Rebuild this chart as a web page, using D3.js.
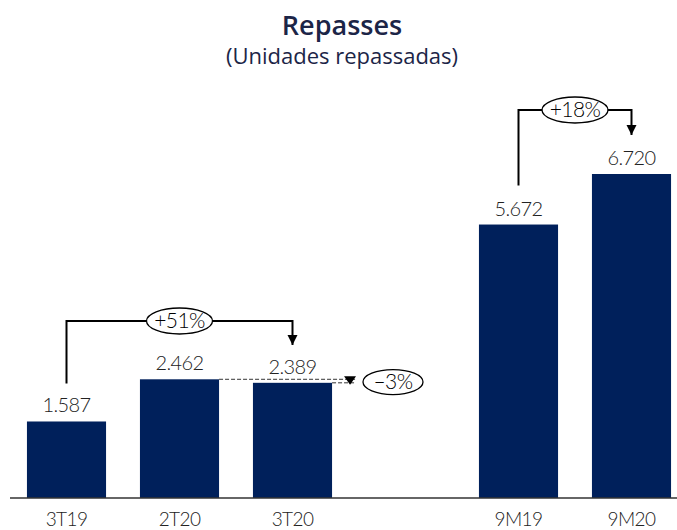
<!DOCTYPE html>
<html>
<head>
<meta charset="utf-8">
<script src="https://cdn.jsdelivr.net/npm/d3@7"></script>
<style>
  body { margin: 0; background: #fff; }
  text { font-family: "Open Sans", "Noto Sans", sans-serif; }
  .num { font-family: Lato, "Open Sans", sans-serif; font-weight: 300; letter-spacing: -0.6px; }
</style>
</head>
<body>
<svg id="chart"></svg>
<script>
// Chart data
var categories = ["3T19", "2T20", "3T20", "", "9M19", "9M20"];
var values = [1587, 2462, 2389, null, 5672, 6720];
var valueLabels = ["1.587", "2.462", "2.389", "", "5.672", "6.720"];
var changeLabels = ["+51%", "-3%", "+18%"];

var W = 677, H = 530;
var baseY = 498;

var svg = d3.select("#chart")
  .attr("width", W)
  .attr("height", H);

// Scales
var xScale = d3.scaleBand()
  .domain(categories)
  .range([10, 688])
  .paddingInner(0.3)
  .paddingOuter(0.15);

var yScale = d3.scaleLinear()
  .domain([0, 6720])
  .range([baseY, 174]);

var data = categories.map(function(c, i) {
  return { cat: c, value: values[i], label: valueLabels[i] };
}).filter(function(d) { return d.value !== null; });

function cx(cat) { return xScale(cat) + xScale.bandwidth() / 2; }

// Title
svg.append("text")
  .attr("x", 342).attr("y", 35)
  .attr("text-anchor", "middle")
  .style("font-size", "27px")
  .style("font-weight", "600")
  .style("fill", "#1c2547")
  .text("Repasses");

svg.append("text")
  .attr("x", 342).attr("y", 64)
  .attr("text-anchor", "middle")
  .style("font-size", "22px")
  .style("fill", "#1c2547")
  .text("(Unidades repassadas)");

// Bars
svg.selectAll(".bar")
  .data(data)
  .enter()
  .append("rect")
  .attr("class", "bar")
  .attr("x", function(d) { return xScale(d.cat); })
  .attr("y", function(d) { return yScale(d.value); })
  .attr("width", xScale.bandwidth())
  .attr("height", function(d) { return baseY - yScale(d.value); })
  .style("fill", "#00205b");

// Value labels
svg.selectAll(".val")
  .data(data)
  .enter()
  .append("text")
  .attr("class", "val num")
  .attr("x", function(d) { return cx(d.cat); })
  .attr("y", function(d) { return yScale(d.value) - 9; })
  .attr("text-anchor", "middle")
  .style("font-size", "20px")
  .style("fill", "#222")
  .text(function(d) { return d.label; });

// X axis
var xAxis = svg.append("g")
  .attr("transform", "translate(0," + baseY + ")")
  .call(d3.axisBottom(xScale).tickSize(0).tickPadding(15));
xAxis.select(".domain").attr("d", "M10,0H677").style("stroke", "#333").style("stroke-width", 1.5);
xAxis.selectAll("text")
  .attr("class", "num")
  .style("font-size", "19px")
  .style("fill", "#222");

// Arrow marker
svg.append("defs").append("marker")
  .attr("id", "arr")
  .attr("viewBox", "0 0 10 10")
  .attr("refX", 10).attr("refY", 5)
  .attr("markerWidth", 5).attr("markerHeight", 5.5)
  .attr("markerUnits", "strokeWidth")
  .attr("orient", "auto")
  .append("path")
  .attr("d", "M0,0L10,5L0,10Z")
  .style("fill", "#000");

// Bracket with growth bubble
function bracket(fromCat, toCat, topY, tipY, label, startY) {
  var x1 = cx(fromCat), x2 = cx(toCat);
  svg.append("path")
    .attr("d", "M" + x1 + "," + startY + "V" + topY + "H" + x2 + "V" + tipY)
    .style("fill", "none")
    .style("stroke", "#000")
    .style("stroke-width", 2)
    .attr("marker-end", "url(#arr)");
  var mx = (x1 + x2) / 2;
  svg.append("ellipse")
    .attr("cx", mx).attr("cy", topY)
    .attr("rx", 33).attr("ry", 13)
    .style("fill", "#fff").style("stroke", "#000").style("stroke-width", 1.3);
  svg.append("text")
    .attr("class", "num")
    .attr("x", mx).attr("y", topY + 7)
    .attr("text-anchor", "middle")
    .style("font-size", "21px")
    .style("fill", "#000")
    .text(label);
}

bracket("3T19", "3T20", 321, 345, changeLabels[0], yScale(values[0]) - 38);
bracket("9M19", "9M20", 110, 135, changeLabels[2], yScale(values[4]) - 39);

// -3% comparison
var y2 = yScale(values[1]), y3 = yScale(values[2]);
var dashEnd = xScale("3T20") + xScale.bandwidth() + 24;
svg.append("line")
  .attr("x1", xScale("2T20") + xScale.bandwidth()).attr("x2", dashEnd)
  .attr("y1", y2).attr("y2", y2)
  .style("stroke", "#333").style("stroke-dasharray", "4,2").style("stroke-width", 1);
svg.append("line")
  .attr("x1", xScale("3T20") + xScale.bandwidth()).attr("x2", dashEnd)
  .attr("y1", y3).attr("y2", y3)
  .style("stroke", "#333").style("stroke-dasharray", "4,2").style("stroke-width", 1);
var tx = dashEnd - 6;
svg.append("path")
  .attr("d", "M" + (tx - 6) + "," + (y2 - 3) + "H" + (tx + 6) + "L" + tx + "," + (y3 + 2) + "Z")
  .style("fill", "#000");
svg.append("ellipse")
  .attr("cx", 393).attr("cy", (y2 + y3) / 2 + 1)
  .attr("rx", 30).attr("ry", 12.5)
  .style("fill", "#fff").style("stroke", "#000").style("stroke-width", 1.3);
svg.append("text")
  .attr("class", "num")
  .attr("x", 393).attr("y", (y2 + y3) / 2 + 8)
  .attr("text-anchor", "middle")
  .style("font-size", "21px")
  .style("fill", "#000")
  .text(changeLabels[1].replace("-", "\u2013"));
</script>
</body>
</html>
